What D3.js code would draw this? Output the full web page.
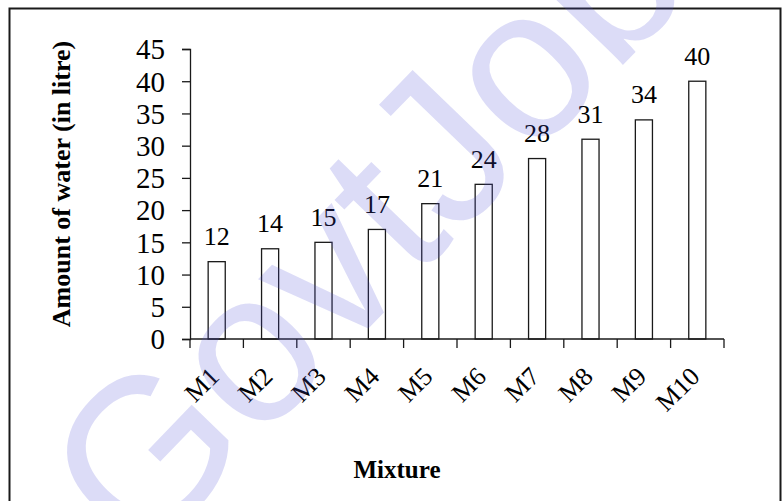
<!DOCTYPE html>
<html>
<head>
<meta charset="utf-8">
<script src="https://cdn.jsdelivr.net/npm/d3@7"></script>
<style>
  html, body { margin: 0; padding: 0; background: #fff; }
  svg { display: block; }
</style>
</head>
<body>
<svg id="chart" width="783" height="501"></svg>
<script>
const categories = ["M1", "M2", "M3", "M4", "M5", "M6", "M7", "M8", "M9", "M10"];
const waterLitres = [12, 14, 15, 17, 21, 24, 28, 31, 34, 40];
const yTicks = [0, 5, 10, 15, 20, 25, 30, 35, 40, 45];
const yTitle = "Amount of water (in litre)";
const xTitle = "Mixture";
const watermark = "GovtJob";

const svg = d3.select("#chart");
const W = 783, H = 501;
const serif = "'Liberation Serif', 'Times New Roman', Times, serif";

svg.append("rect").attr("x", 0).attr("y", 0).attr("width", W).attr("height", H).attr("fill", "#fff");

// outer frame
svg.append("rect")
  .attr("x", 9.5).attr("y", 8.5)
  .attr("width", 771).attr("height", 498)
  .attr("fill", "none").attr("stroke", "#1a1a1a").attr("stroke-width", 2);

const plot = { left: 190, right: 724, top: 49, bottom: 339 };

const x = d3.scaleBand().domain(categories).range([plot.left, plot.right]).padding(0);
const y = d3.scaleLinear().domain([0, 45]).range([plot.bottom, plot.top]);

const barW = x.bandwidth() * 0.32;

// bars
svg.append("g").selectAll("rect")
  .data(categories)
  .join("rect")
  .attr("x", (d) => x(d) + x.bandwidth() / 2 - barW / 2)
  .attr("y", (d, i) => y(waterLitres[i]))
  .attr("width", barW)
  .attr("height", (d, i) => y(0) - y(waterLitres[i]))
  .attr("fill", "none")
  .attr("stroke", "#1a1a1a")
  .attr("stroke-width", 1.3);

// value labels
svg.append("g").selectAll("text")
  .data(categories)
  .join("text")
  .attr("x", (d) => x(d) + x.bandwidth() / 2)
  .attr("y", (d, i) => y(waterLitres[i]) - 16.5)
  .attr("text-anchor", "middle")
  .attr("font-family", serif)
  .attr("font-size", 26)
  .attr("fill", "#000")
  .text((d, i) => waterLitres[i]);

// y axis
const yAxis = d3.axisLeft(y).tickValues(yTicks).tickSize(8).tickPadding(17);
const gy = svg.append("g").attr("transform", `translate(${plot.left},0)`).call(yAxis);
gy.select(".domain").attr("stroke", "#1a1a1a").attr("stroke-width", 1.3);
gy.selectAll(".tick line").attr("stroke", "#1a1a1a").attr("stroke-width", 1.3);
gy.selectAll(".tick text")
  .attr("font-family", serif).attr("font-size", 29).attr("fill", "#000")
  .attr("dy", "0.34em");

// x axis line and boundary ticks
const boundaries = categories.map((c) => x(c)).concat([plot.right]);
svg.append("line")
  .attr("x1", plot.left).attr("x2", plot.right)
  .attr("y1", y(0)).attr("y2", y(0))
  .attr("stroke", "#1a1a1a").attr("stroke-width", 1.3);
svg.append("g").selectAll("line")
  .data(boundaries)
  .join("line")
  .attr("x1", (d) => d).attr("x2", (d) => d)
  .attr("y1", y(0)).attr("y2", y(0) + 9)
  .attr("stroke", "#1a1a1a").attr("stroke-width", 1.3);

// x tick labels, rotated
svg.append("g").selectAll("text")
  .data(categories)
  .join("text")
  .attr("transform", (d) => `translate(${x(d) + x.bandwidth() / 2 + 4},378) rotate(-45)`)
  .attr("text-anchor", "end")
  .attr("font-family", serif)
  .attr("font-size", 26)
  .attr("fill", "#000")
  .text((d) => d);

// axis titles
svg.append("text")
  .attr("transform", `translate(70,184) rotate(-90)`)
  .attr("text-anchor", "middle")
  .attr("font-family", serif)
  .attr("font-weight", "bold")
  .attr("font-size", 26)
  .attr("fill", "#000")
  .text(yTitle);

svg.append("text")
  .attr("x", 397).attr("y", 478)
  .attr("text-anchor", "middle")
  .attr("font-family", serif)
  .attr("font-weight", "bold")
  .attr("font-size", 25)
  .attr("fill", "#000")
  .text(xTitle);

// watermark overlay
svg.append("text")
  .attr("transform", "translate(140,565) rotate(-46)")
  .attr("font-family", "'Liberation Sans', Arial, sans-serif")
  .attr("font-size", 215)
  .attr("fill", "rgb(80,80,215)")
  .attr("fill-opacity", 0.2)
  .text(watermark);
</script>
</body>
</html>
